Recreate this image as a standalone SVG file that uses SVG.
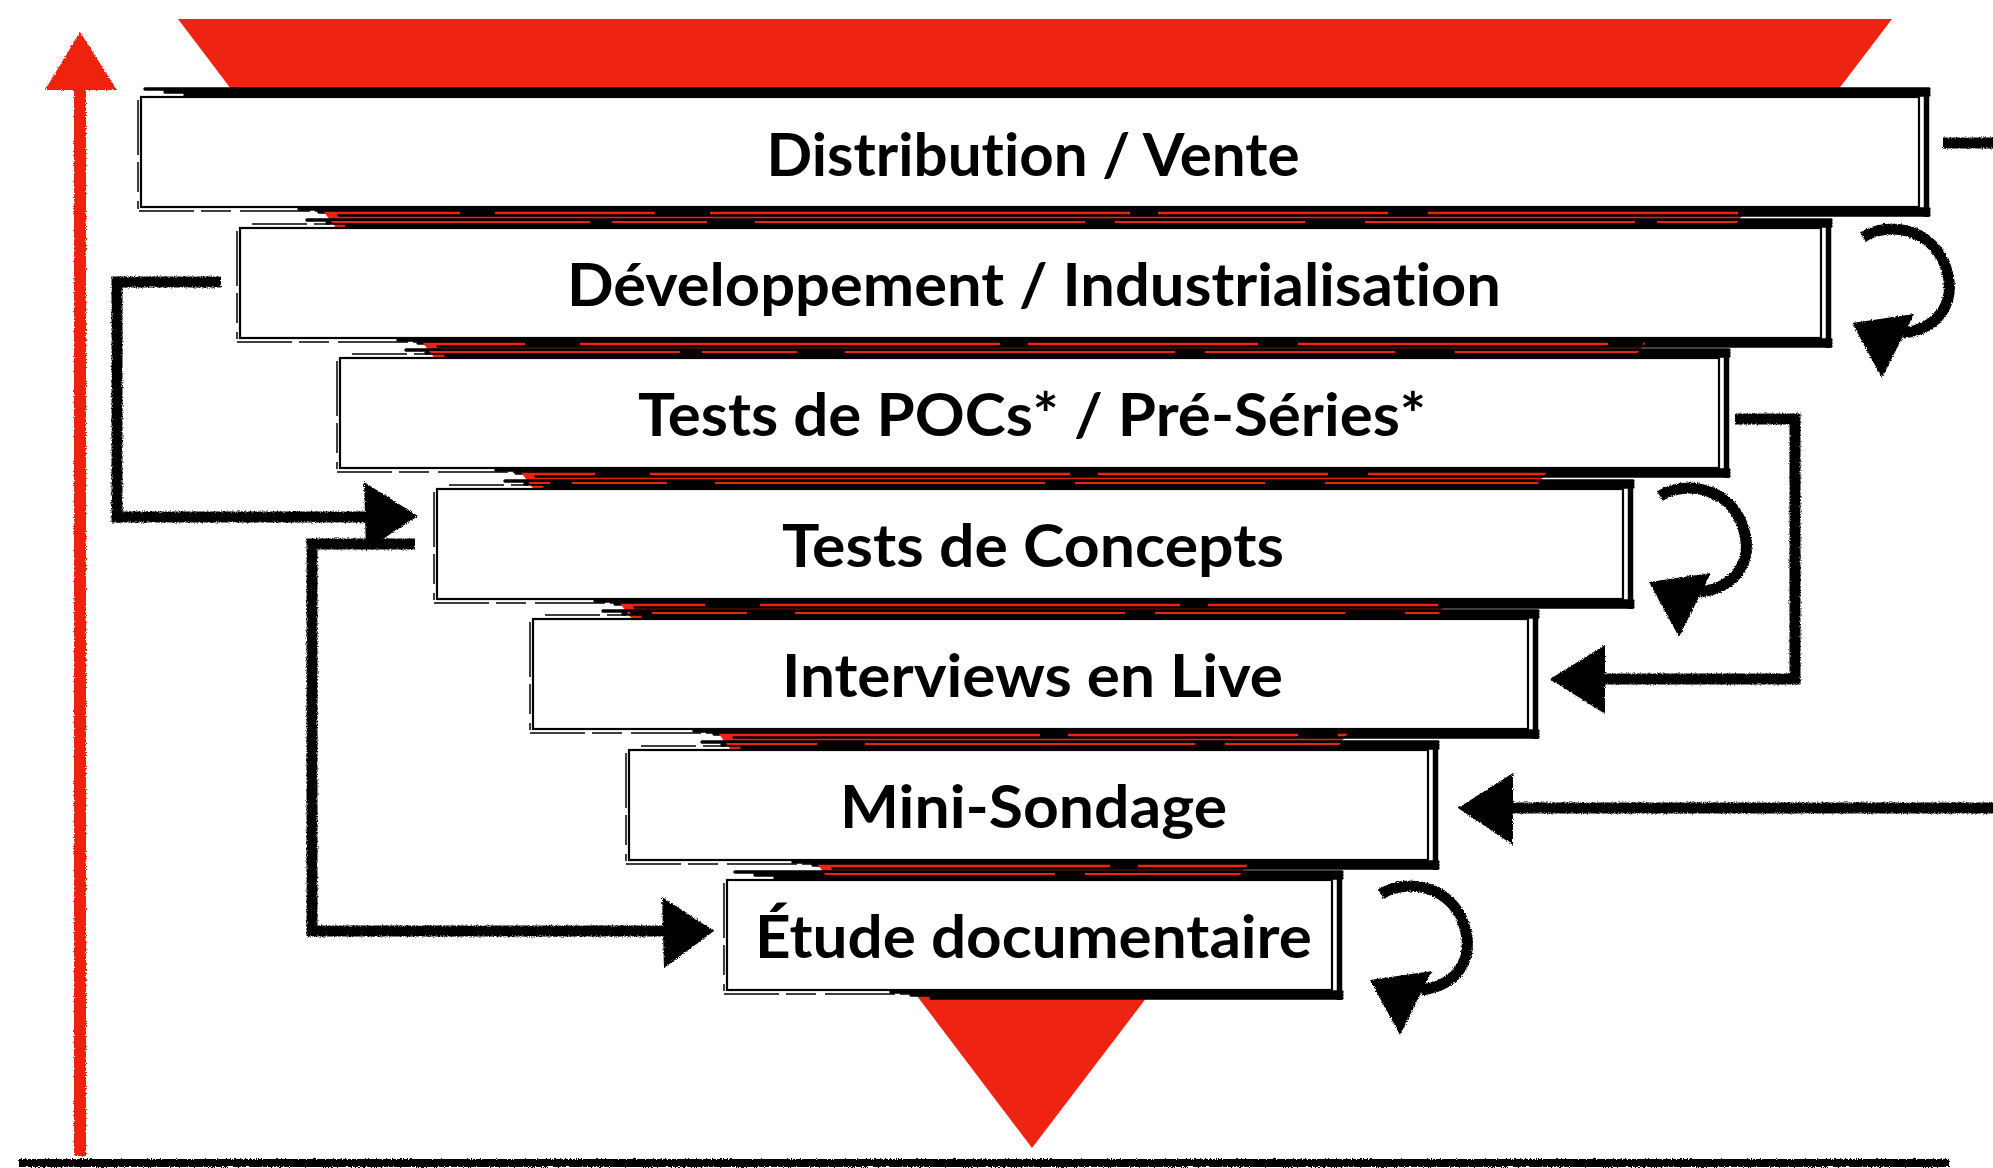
<svg xmlns="http://www.w3.org/2000/svg" width="1993" height="1168" viewBox="0 0 1993 1168">
<style>
.box{fill:#fff;stroke:#000;stroke-width:2.2}
.band{fill:none;stroke:#000;stroke-width:3.4;stroke-linecap:round}
.rband{fill:none;stroke:#000;stroke-width:5.5}
.thin{fill:none;stroke:#000;stroke-width:1.5;stroke-dasharray:55 7 30 9 70 5}
.red1{fill:none;stroke:#ee2311;stroke-width:2.4;stroke-dasharray:310 35 160 55 420 28 230 40}
.red2{fill:none;stroke:#ee2311;stroke-width:2;stroke-dasharray:190 60 270 22 95 48 330 30}
.lbl{font-family:Lato,"Liberation Sans",sans-serif;font-weight:700;font-size:60px;fill:#000;text-anchor:middle;font-variant-ligatures:none;font-feature-settings:"liga" 0}
.conn{fill:none;stroke:#000;stroke-width:11}
.head{fill:#000}
</style>
<defs>
<filter id="rough" filterUnits="userSpaceOnUse" x="0" y="0" width="1993" height="1168">
<feTurbulence type="fractalNoise" baseFrequency="0.8" numOctaves="2" seed="4" result="n"/>
<feDisplacementMap in="SourceGraphic" in2="n" scale="3.5" xChannelSelector="R" yChannelSelector="G"/>
</filter>
<clipPath id="funnelClip"><polygon points="178,19 1892,19 1032,1148"/></clipPath>
<g id="curl">
<path class="conn" stroke-width="10" d="M0,4 C25,-12 70,-5 83,35 C93,65 80,95 40,100"/>
<polygon class="head" points="-11,90 51,81 19,145"/>
</g>
</defs>
<rect width="1993" height="1168" fill="#fff"/>
<g id="funnel">
<polygon points="178,19 1892,19 1032,1148" fill="#ee2311"/>
</g>
<g id="n1">
<rect class="box" x="141" y="97" width="1778" height="110"/>
<path class="band" d="M145,89H1929M165,92H1929M185,95H1929M299,209H1929M319,212H1929M339,215H1929"/>
<path class="rband" d="M1926.5,88V217"/>
<path class="thin" d="M139,211H330M138,100V209"/>
<text class="lbl" x="1033" y="176" textLength="533" lengthAdjust="spacingAndGlyphs">Distribution / Vente</text>
</g>
<g id="n2">
<rect class="box" x="240" y="228" width="1581" height="110"/>
<path class="band" d="M307,220H1831M327,223H1831M347,226H1831M398,340H1831M418,343H1831M438,346H1831"/>
<path class="rband" d="M1828.5,219V348"/>
<path class="thin" d="M252,224H330M237,342H420M237,231V339"/>
<text class="lbl" x="1034" y="306" textLength="934" lengthAdjust="spacingAndGlyphs">Développement / Industrialisation</text>
</g>
<g id="n3">
<rect class="box" x="340" y="358" width="1379" height="110"/>
<path class="band" d="M406,350H1729M426,353H1729M446,356H1729M496,470H1729M516,473H1729M536,476H1729"/>
<path class="rband" d="M1726.5,349V478"/>
<path class="thin" d="M352,354H430M337,472H520M337,361V469"/>
<text class="lbl" x="1032" y="436" textLength="788" lengthAdjust="spacingAndGlyphs">Tests de POCs* / Pré-Séries*</text>
</g>
<g id="n4">
<rect class="box" x="437" y="489" width="1186" height="110"/>
<path class="band" d="M505,481H1633M525,484H1633M545,487H1633M595,601H1633M615,604H1633M635,607H1633"/>
<path class="rband" d="M1630.5,480V609"/>
<path class="thin" d="M449,485H528M434,603H618M434,492V600"/>
<text class="lbl" x="1033" y="567" textLength="502" lengthAdjust="spacingAndGlyphs">Tests de Concepts</text>
</g>
<g id="n5">
<rect class="box" x="533" y="619" width="995" height="110"/>
<path class="band" d="M603,611H1538M623,614H1538M643,617H1538M694,731H1538M714,734H1538M734,737H1538"/>
<path class="rband" d="M1535.5,610V739"/>
<path class="thin" d="M545,615H626M530,733H716M530,622V730"/>
<text class="lbl" x="1032.5" y="697" textLength="501" lengthAdjust="spacingAndGlyphs">Interviews en Live</text>
</g>
<g id="n6">
<rect class="box" x="629" y="750" width="799" height="110"/>
<path class="band" d="M702,742H1438M722,745H1438M742,748H1438M793,862H1438M813,865H1438M833,868H1438"/>
<path class="rband" d="M1435.5,741V870"/>
<path class="thin" d="M641,746H725M626,864H815M626,753V861"/>
<text class="lbl" x="1033.5" y="828" textLength="387" lengthAdjust="spacingAndGlyphs">Mini-Sondage</text>
</g>
<g id="n7">
<rect class="box" x="727" y="880" width="605" height="110"/>
<path class="band" d="M735,872H1342M755,875H1342M775,878H1342M891,992H1342M911,995H1342M931,998H1342"/>
<path class="rband" d="M1339.5,871V1000"/>
<path class="thin" d="M724,994H915M724,883V991"/>
<text class="lbl" x="1033.5" y="958" textLength="557" lengthAdjust="spacingAndGlyphs">Étude documentaire</text>
</g>
<g id="red-streaks" clip-path="url(#funnelClip)">
<path class="red1" d="M150,213H1930M20,344H1930M90,474H1930M200,605H1930M60,735H1930M130,866H1930"/>
<path class="red2" d="M70,222H1930M160,352H1930M30,483H1930M110,613H1930M180,744H1930M40,874H1930"/>
</g>
<g id="connectors" filter="url(#rough)">
<g id="axis-up">
<path d="M80,1156V86" fill="none" stroke="#ee2311" stroke-width="12"/>
<polygon points="45,90 117,90 80,32" fill="#ee2311"/>
</g>
<path id="axis-base" d="M19,1163H1949" fill="none" stroke="#000" stroke-width="8"/>
<path id="stub-right" class="conn" d="M1943,143H1995"/>
<use href="#curl" transform="translate(1863,233)"/>
<use href="#curl" transform="translate(1660,492)"/>
<use href="#curl" transform="translate(1381,890)"/>
<g id="pocs-to-interviews">
<path class="conn" d="M1735,419H1795V679H1600"/>
<polygon class="head" points="1605,645 1605,714 1550,679"/>
</g>
<g id="right-to-sondage">
<path class="conn" d="M1995,808H1505"/>
<polygon class="head" points="1513,773 1513,845 1458,808"/>
</g>
<g id="dev-to-concepts">
<path class="conn" d="M221,282H117V517H370"/>
<polygon class="head" points="364,482 418,516 366,550"/>
</g>
<g id="concepts-to-etude">
<path class="conn" d="M415,544H312V931H665"/>
<polygon class="head" points="662,897 714,931 664,968"/>
</g>
</g>
</svg>
